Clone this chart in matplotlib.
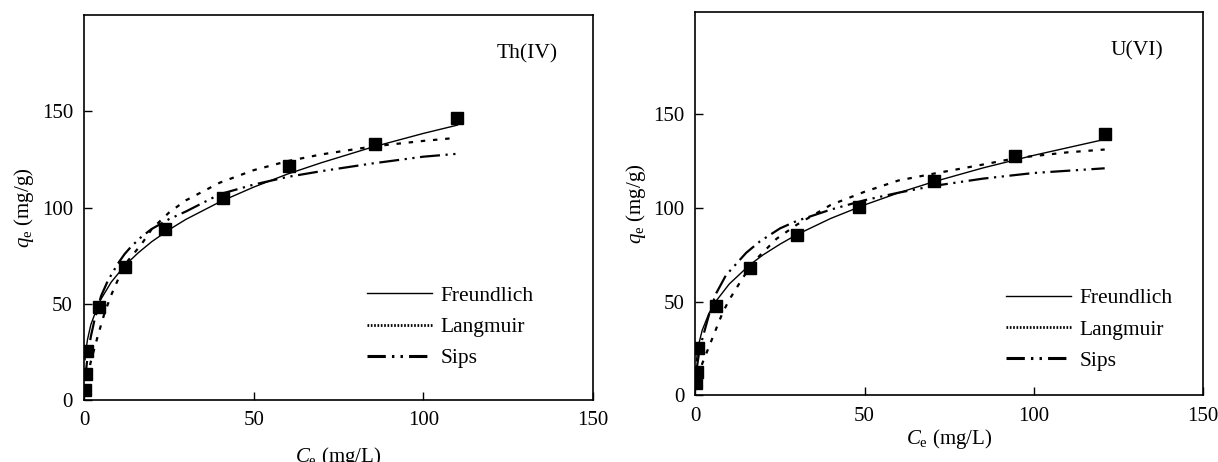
import matplotlib
matplotlib.use("Agg")
import matplotlib.pyplot as plt
from matplotlib.lines import Line2D

plt.rcParams['font.family'] = ['Liberation Serif', 'DejaVu Serif']
plt.rcParams['mathtext.fontset'] = 'custom'
plt.rcParams['mathtext.rm'] = 'Liberation Serif'
plt.rcParams['mathtext.it'] = 'Liberation Serif:italic'

# Th(IV) - measured points
th_ce = [0.4, 0.6, 1.0, 4.5, 12.2, 23.9, 41.0, 60.5, 85.6, 110.0]
th_qe = [5.5, 13.5, 25.5, 48.4, 69.0, 89.0, 105.0, 121.5, 133.0, 146.5]

# Th(IV) - fitted curves
th_fr_x = [0.3, 0.5, 1, 2, 4.5, 8, 12, 16, 20, 25, 30, 40, 50, 60, 70, 85, 100, 110]
th_fr_y = [21, 25, 31.3, 39.2, 51, 61.3, 69.9, 76.6, 82.4, 88.5, 93.9, 103, 110.7, 117.5, 123.4, 131.5, 138.6, 142.9]
th_la_x = [1, 2, 3, 4, 6, 8, 10, 13, 17, 20, 25, 30, 40, 50, 60, 70, 85, 100, 108]
th_la_y = [12, 20, 26.5, 33, 45, 54.6, 62.6, 72.6, 81.2, 89, 97.4, 103.8, 113, 119.5, 124.2, 127.7, 131.8, 134.7, 136]
th_si_x = [0.3, 0.5, 1, 2, 3, 5, 7, 10, 12, 14, 17, 20, 25, 30, 40, 50, 60, 70, 85, 100, 110]
th_si_y = [10, 14, 22, 33, 41, 54, 62, 71, 76, 80, 85, 89, 94, 98, 107, 112, 116, 119, 123, 126.5, 128]

# U(VI) - measured points
u_ce = [0.3, 0.4, 0.8, 6.0, 16.0, 30.0, 48.4, 70.5, 94.5, 121.0]
u_qe = [6.5, 12.5, 25.5, 47.7, 68.0, 85.5, 100.5, 114.5, 127.5, 139.5]

# U(VI) - fitted curves
u_fr_x = [0.3, 0.5, 1, 2, 4, 6, 10, 16, 20, 25, 30, 40, 50, 60, 70, 85, 100, 121]
u_fr_y = [18.5, 21.9, 27.6, 34.8, 43.8, 50.1, 59.4, 69.5, 74.9, 80.6, 85.7, 94.3, 101.5, 107.9, 113.6, 121.2, 127.9, 136.4]
u_la_x = [1, 2, 4, 6, 8, 10, 14, 18, 24, 30, 40, 50, 60, 70, 85, 95, 110, 121]
u_la_y = [10, 17, 26, 35, 44, 51, 62.7, 72.7, 83.5, 91, 101.5, 108.5, 114.5, 118, 123, 126.5, 129.5, 131]
u_si_x = [0.3, 0.5, 1, 2, 4, 6, 9, 12, 15, 19, 25, 30, 35, 40, 50, 60, 70, 85, 100, 121]
u_si_y = [12, 16, 22, 30, 43, 54, 64, 70, 76, 82, 89, 93, 96, 99, 104, 108, 111.5, 115.5, 118.5, 121]

labels = ['Freundlich', 'Langmuir', 'Sips']
dot_style = (0, (2, 3.5))
sips_style = (0, (9, 2.5, 1, 2.5, 1, 2.5))

fig = plt.figure(figsize=(12.18, 4.62), dpi=100)
ax1 = fig.add_axes([0.069, 0.134, 0.418, 0.833])
ax2 = fig.add_axes([0.571, 0.144, 0.4165, 0.829])

# ax, data..., label, ymax, xlabel pad, legend anchor
panels = [
    (ax1, th_ce, th_qe, th_fr_x, th_fr_y, th_la_x, th_la_y, th_si_x, th_si_y,
     'Th(IV)', 200, 11, (0.556, 0.297)),
    (ax2, u_ce, u_qe, u_fr_x, u_fr_y, u_la_x, u_la_y, u_si_x, u_si_y,
     'U(VI)', 204, 1, (0.612, 0.28)),
]

for ax, ce, qe, frx, fry, lax, lay, six, siy, name, ymax, xpad, anchor in panels:
    ax.plot(frx, fry, color='black', lw=1.0, ls='-')
    ax.plot(lax, lay, color='black', lw=1.6, ls=dot_style)
    ax.plot(six, siy, color='black', lw=1.6, ls=sips_style)
    ax.plot(ce, qe, ls='none', marker='s', ms=8, color='black')

    ax.set_xlim(0, 150)
    ax.set_ylim(0, ymax)
    ax.set_xticks([0, 50, 100, 150])
    ax.set_yticks([0, 50, 100, 150])
    ax.tick_params(direction='in', length=6, width=1, labelsize=15, pad=8,
                   top=False, right=False)
    for sp in ax.spines.values():
        sp.set_linewidth(1.2)
    ax.set_xlabel(r'$C_{\mathrm{e}}$ (mg/L)', fontsize=15, labelpad=xpad)
    ax.set_ylabel(r'$q_{\mathrm{e}}$ (mg/g)', fontsize=15, labelpad=4)
    ax.text(0.87, 0.90, name, transform=ax.transAxes, fontsize=15.5,
            ha='center', va='center')

    handles = [
        Line2D([], [], color='black', lw=1.0, ls='-'),
        Line2D([], [], color='black', lw=2.0, ls=(0, (0.6, 0.6))),
        Line2D([], [], color='black', lw=2.2, ls=(0, (6, 2, 0.8, 2, 0.8, 2))),
    ]
    ax.legend(handles, labels, loc='upper left', bbox_to_anchor=anchor,
              frameon=False, fontsize=15.5, handlelength=3.0, handletextpad=0.4,
              labelspacing=0.52, borderpad=0, borderaxespad=0)

fig.savefig('out.png', dpi=100)
